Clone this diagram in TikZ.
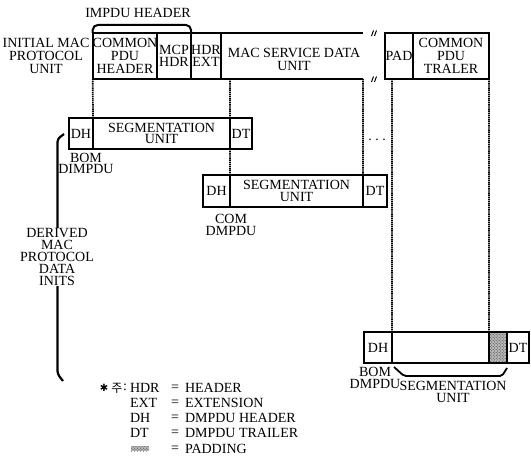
\documentclass[tikz,border=0pt]{standalone}
\usepackage{fontspec}
\setmainfont{Liberation Serif}
\newfontfamily\krfont{Noto Sans CJK KR}
\newfontfamily\symfont{DejaVu Sans}
\usetikzlibrary{patterns}
\begin{document}
\begin{tikzpicture}[x=1bp,y=-1bp,
  every node/.style={font=\fontsize{14bp}{12.5bp}\selectfont, inner sep=0pt, outer sep=0pt, align=center},
  cell/.style={draw, line width=1.8bp},
  row/.style={minimum height=46bp},
  dm/.style={minimum height=31bp},
  boxline/.style={line width=1.8bp},
  dots/.style={line width=1.7bp, dash pattern=on 1.4bp off 0.7bp},
  brk/.style={line width=1bp},
  pad/.style={preaction={fill=gray!55}, pattern=crosshatch dots, pattern color=black!80},
  tall/.style={font=\fontsize{14bp}{13bp}\selectfont},
  tight/.style={font=\fontsize{14bp}{11.5bp}\selectfont}]
\useasboundingbox (0,0) rectangle (531,463);

% ---- initial MAC protocol unit ----
\node[tall] (iml) at (46,56) {INITIAL MAC\\PROTOCOL\\UNIT};
\node[cell,row,tall,minimum width=64bp] (cph) at (125,56) {COMMON\\PDU\\HEADER};
\node[cell,row,minimum width=34bp] (mcp) at (174,56) {MCP\\HDR};
\node[cell,row,minimum width=30bp] (hext) at (206,56) {HDR\\EXT};
\node[row,minimum width=142bp] (msdu) at (292,56) {};
\node[tall] (msdutxt) at (294,59) {MAC SERVICE DATA\\UNIT};
\draw[boxline] (msdu.north west) -- (msdu.north east);
\draw[boxline] (msdu.south west) -- (msdu.south east);
\node[cell,row,minimum width=28bp] (pad) at (399,56) {PAD};
\node[cell,row,tall,minimum width=76bp] (cpt) at (451,56) {COMMON\\PDU\\TRALER};
% break marks
\draw[brk] (371.5,36) -- (373.5,30.5) (374.5,36) -- (376.5,30.5);
\draw[brk] (371.5,82) -- (373.5,76.5) (374.5,82) -- (376.5,76.5);

% IMPDU header brace
\node (imh) at (138,13) {IMPDU HEADER};
\draw[line width=2bp, rounded corners=5bp] (cph.north west) -- ++(0,-8) -| (mcp.north east);

% ---- first DMPDU (BOM) ----
\node[cell,dm,minimum width=24bp] (dh1) at (81,133.5) {DH};
\node[cell,dm,tight,minimum width=137bp] (seg1) at (161.5,133.5) {SEGMENTATION\\UNIT};
\node[cell,dm,minimum width=22bp] (dt1) at (241,133.5) {DT};
\node[tight] (bom1) at (86,163.5) {BOM\\DIMPDU};

% ---- second DMPDU (COM) ----
\node[cell,dm,minimum width=27bp,minimum height=32bp] (dh2) at (216.5,191) {DH};
\node[cell,dm,tight,minimum width=133bp,minimum height=32bp] (seg2) at (296.5,191) {SEGMENTATION\\UNIT};
\node[cell,dm,minimum width=24bp,minimum height=32bp] (dt2) at (375,191) {DT};
\node[tight] (com2) at (231,225) {COM\\DMPDU};

\node (ell) at (377,140) {.\hspace{3.5bp}.\hspace{3.5bp}.};

% ---- last DMPDU (BOM) ----
\node[cell,dm,minimum width=28bp] (dh3) at (378,347.5) {DH};
\node[cell,dm,minimum width=97bp] (seg3) at (440.5,347.5) {};
\node[cell,dm,pad,minimum width=18bp] (pad3) at (498,347.5) {};
\node[cell,dm,minimum width=22bp] (dt3) at (518,347.5) {DT};
\node[tight] (bom3) at (375,378) {BOM\\DMPDU};
\node[tight] (seg3txt) at (453,392) {SEGMENTATION\\UNIT};
\draw[line width=1.8bp, rounded corners=2bp] (394,367) -- (404,376) -- (502,376) -- (507,368);

% ---- dotted correspondence lines ----
\coordinate (m1) at (230,79);
\coordinate (m2) at (392,79);
\draw[dots] (cph.south west) -- (dh1.north east);
\draw[dots] (m1) -- (dt1.north west);
\draw[dots] (dt1.south west) -- (dh2.north east);
\draw[dots] (msdu.south east) -- (dt2.north west);
\draw[dots] (m2) -- (dh3.north east);
\draw[dots] (cpt.south east) -- (pad3.north west);

% ---- derived MAC PDU bracket ----
\draw[line width=2.2bp, rounded corners=3bp] (64,134) -- (57.5,139) -- (57.5,374) -- (63,381);
\node[fill=white, inner sep=1bp, font=\fontsize{14bp}{11.8bp}\selectfont] (derived) at (57,257) {DERIVED\\MAC\\PROTOCOL\\DATA\\INITS};

% ---- legend ----
\node (ast) at (104,388) {\symfont\fontsize{10bp}{10bp}\selectfont ✱};
\node (ju) at (117,388) {\krfont\fontsize{12bp}{12bp}\selectfont 주};
\node (col) at (125,387.5) {:};
\node[anchor=west] (k1) at (130,388) {HDR};
\node[anchor=west] (k2) at (130,403) {EXT};
\node[anchor=west] (k3) at (130,418) {DH};
\node[anchor=west] (k4) at (130,433) {DT};
\node[pad, minimum width=18bp, minimum height=5bp] (k5) at (140,448.5) {};
\node (e1) at (175,388) {=};
\node (e2) at (175,403) {=};
\node (e3) at (175,418) {=};
\node (e4) at (175,433) {=};
\node (e5) at (175,449) {=};
\node[anchor=west] (v1) at (185,388) {HEADER};
\node[anchor=west] (v2) at (185,403) {EXTENSION};
\node[anchor=west] (v3) at (185,418) {DMPDU HEADER};
\node[anchor=west] (v4) at (185,433) {DMPDU TRAILER};
\node[anchor=west] (v5) at (185,449) {PADDING};
\end{tikzpicture}
\end{document}
